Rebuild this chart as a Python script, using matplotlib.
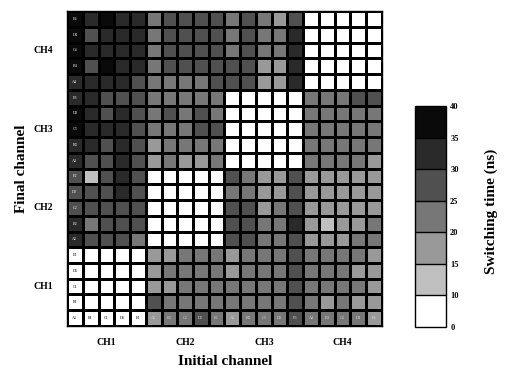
import matplotlib
matplotlib.use("Agg")
import matplotlib.pyplot as plt
import numpy as np
from matplotlib.colors import ListedColormap, BoundaryNorm

# channel names (columns: initial channel, rows: final channel)
channels = ["A1", "B1", "C1", "D1", "E1",
            "A2", "B2", "C2", "D2", "E2",
            "A3", "B3", "C3", "D3", "E3",
            "A4", "B4", "C4", "D4", "E4"]
groups = ["CH1", "CH2", "CH3", "CH4"]

# switching time (ns), rows listed from final channel E4 (top) down to A1 (bottom)
row_E4 = [37, 32, 37, 32, 32, 22, 27, 27, 27, 27, 22, 27, 22, 17, 27, 5, 5, 5, 5, 5]
row_D4 = [37, 27, 32, 32, 32, 22, 27, 27, 27, 27, 22, 27, 22, 22, 32, 5, 5, 5, 5, 5]
row_C4 = [37, 32, 32, 32, 32, 22, 27, 27, 27, 27, 22, 27, 22, 22, 32, 5, 5, 5, 5, 5]
row_B4 = [37, 27, 37, 32, 32, 22, 27, 27, 27, 27, 27, 27, 17, 17, 32, 5, 5, 5, 5, 5]
row_A4 = [32, 32, 32, 32, 27, 22, 22, 22, 22, 27, 27, 27, 17, 17, 32, 5, 5, 5, 5, 5]
row_E3 = [32, 32, 27, 27, 27, 22, 22, 22, 22, 22, 5, 5, 5, 5, 5, 22, 22, 22, 27, 27]
row_D3 = [37, 32, 27, 32, 27, 22, 27, 22, 27, 22, 5, 5, 5, 5, 5, 22, 22, 22, 22, 22]
row_C3 = [37, 32, 32, 32, 27, 22, 22, 22, 27, 27, 5, 5, 5, 5, 5, 22, 22, 22, 22, 22]
row_B3 = [32, 32, 27, 32, 27, 17, 22, 22, 22, 22, 5, 5, 5, 5, 5, 22, 22, 22, 22, 22]
row_A3 = [32, 27, 27, 32, 27, 17, 22, 17, 17, 22, 5, 5, 5, 5, 5, 22, 22, 22, 22, 17]
row_E2 = [27, 12, 27, 32, 27, 5, 5, 5, 5, 5, 27, 22, 17, 17, 27, 17, 17, 17, 17, 17]
row_D2 = [27, 27, 27, 32, 27, 5, 5, 5, 5, 5, 22, 22, 17, 17, 27, 17, 17, 17, 17, 17]
row_C2 = [27, 27, 27, 27, 27, 5, 5, 5, 5, 5, 27, 27, 17, 22, 27, 17, 17, 17, 17, 17]
row_B2 = [32, 22, 27, 27, 27, 5, 5, 5, 5, 5, 27, 27, 22, 22, 32, 17, 12, 17, 17, 22]
row_A2 = [32, 27, 27, 27, 22, 5, 5, 5, 5, 5, 27, 27, 22, 22, 27, 17, 17, 17, 22, 22]
row_E1 = [5, 5, 5, 5, 5, 17, 17, 22, 22, 22, 17, 22, 22, 22, 27, 22, 22, 22, 22, 17]
row_D1 = [5, 5, 5, 5, 5, 17, 22, 22, 22, 22, 17, 22, 22, 22, 27, 22, 22, 22, 17, 17]
row_C1 = [5, 5, 5, 5, 5, 17, 17, 22, 22, 22, 22, 22, 22, 22, 27, 22, 22, 22, 22, 17]
row_B1 = [5, 5, 5, 5, 5, 27, 22, 22, 22, 22, 22, 22, 22, 22, 27, 22, 17, 22, 17, 17]
row_A1 = [5, 5, 5, 5, 5, 17, 22, 22, 27, 22, 17, 22, 22, 22, 27, 22, 22, 22, 22, 17]

rows_top_down = [row_E4, row_D4, row_C4, row_B4, row_A4,
                 row_E3, row_D3, row_C3, row_B3, row_A3,
                 row_E2, row_D2, row_C2, row_B2, row_A2,
                 row_E1, row_D1, row_C1, row_B1, row_A1]

bounds = [0, 10, 15, 20, 25, 30, 35, 40]
colors = ["#ffffff", "#c0c0c0", "#999999", "#777777", "#505050", "#2a2a2a", "#0a0a0a"]

serif = ["Liberation Serif", "DejaVu Serif"]

cmap = ListedColormap(colors)
norm = BoundaryNorm(bounds, cmap.N)

data = np.array(rows_top_down[::-1], dtype=float)  # row 0 = A1 (bottom)
n = len(channels)

fig = plt.figure(figsize=(5.05, 3.70), dpi=100)
ax = fig.add_axes([0.1327, 0.119, 0.6237, 0.851])
mesh = ax.pcolormesh(np.arange(n + 1), np.arange(n + 1), data, cmap=cmap, norm=norm,
                     edgecolors="black", linewidth=0.9)
ax.set_xlim(0, n)
ax.set_ylim(0, n)
ax.set_xticks([])
ax.set_yticks([])
for s in ax.spines.values():
    s.set_linewidth(1.0)

# in-cell labels: first column (final channel) and bottom row (initial channel)
for i, name in enumerate(channels):
    v = data[i, 0]
    ax.text(0.5, i + 0.5, name, ha="center", va="center", fontsize=3,
            family=serif, color="white" if v >= 15 else "black")
    if i > 0:
        v = data[0, i]
        ax.text(i + 0.5, 0.5, name, ha="center", va="center", fontsize=3,
                family=serif, color="#dddddd" if v >= 15 else "black")

# group labels
for g, name in enumerate(groups):
    ax.text(-0.9, g * 5 + 2.5, name, ha="right", va="center", fontsize=7,
            fontweight="bold", family=serif)
    ax.text(g * 5 + 2.5, -0.75, name, ha="center", va="top", fontsize=7,
            fontweight="bold", family=serif)

fig.text(0.042, 0.545, "Final channel", rotation=90, ha="center", va="center",
         fontsize=11, fontweight="bold", family=serif)
fig.text(0.445, 0.022, "Initial channel", ha="center", va="center",
         fontsize=11, fontweight="bold", family=serif)

cax = fig.add_axes([0.8218, 0.1162, 0.0614, 0.597])
cb = fig.colorbar(mesh, cax=cax, boundaries=bounds, ticks=bounds,
                  spacing="uniform", drawedges=True)
cb.outline.set_linewidth(1.0)
cb.dividers.set_color("black")
cb.dividers.set_linewidth(1.0)
cax.tick_params(length=0, pad=3)
for lab in cax.get_yticklabels():
    lab.set_fontfamily(serif)
    lab.set_fontweight("bold")
    lab.set_fontsize(6)
fig.text(0.972, 0.43, "Switching time (ns)", rotation=90, ha="center", va="center",
         fontsize=11, fontweight="bold", family=serif)

fig.savefig("out.png", dpi=100)
